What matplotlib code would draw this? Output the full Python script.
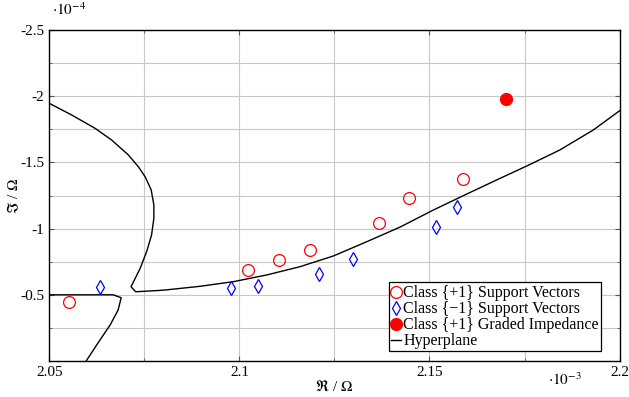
import matplotlib
matplotlib.use("Agg")
import matplotlib.pyplot as plt
from matplotlib.ticker import MultipleLocator, FixedLocator

plt.rcParams['font.family'] = ['Liberation Serif', 'DejaVu Serif']
plt.rcParams['mathtext.fontset'] = 'stix'

# Values: x in units of 1e-3 Ohm, y in units of 1e-4 Ohm
pos_sv_x = [2.0553, 2.1022, 2.1103, 2.1186, 2.1366, 2.1445, 2.1587]
pos_sv_y = [-0.446, -0.687, -0.763, -0.838, -1.045, -1.233, -1.377]

neg_sv_x = [2.0633, 2.0977, 2.1050, 2.1210, 2.1300, 2.1516, 2.1573]
neg_sv_y = [-0.557, -0.549, -0.566, -0.659, -0.773, -1.010, -1.161]

graded_x = [2.1701]
graded_y = [-1.979]

hyp_a_x = [2.0500, 2.0559, 2.0620, 2.0664, 2.0708, 2.0734, 2.0752, 2.0768, 2.0775,
           2.0775, 2.0769, 2.0756, 2.0739, 2.0715, 2.0727, 2.0778, 2.0804, 2.0896,
           2.0984, 2.1072, 2.1159, 2.1247, 2.1335, 2.1423, 2.1510, 2.1598, 2.1686,
           2.1756, 2.1843, 2.1931, 2.2000]
hyp_a_y = [-1.946, -1.858, -1.758, -1.669, -1.556, -1.468, -1.392, -1.292, -1.178,
           -1.078, -0.952, -0.826, -0.700, -0.561, -0.523, -0.531, -0.536, -0.564,
           -0.599, -0.650, -0.712, -0.793, -0.901, -1.012, -1.140, -1.261, -1.380,
           -1.473, -1.594, -1.745, -1.890]

hyp_b_x = [2.0500, 2.0668, 2.0689, 2.0681, 2.0660, 2.0628, 2.0597]
hyp_b_y = [-0.500, -0.500, -0.478, -0.385, -0.272, -0.136, 0.000]

x_ticks = [2.05, 2.1, 2.15, 2.2]
x_tick_labels = ['2.05', '2.1', '2.15', '2.2']
y_ticks = [-2.5, -2.0, -1.5, -1.0, -0.5]
y_tick_labels = ['-2.5', '-2', '-1.5', '-1', '-0.5']

fig = plt.figure(figsize=(6.29, 3.97), dpi=100)
ax = fig.add_axes([0.0784, 0.0907, 0.9066, 0.8337])

ax.grid(True, which='both', color='#c8c8c8', linewidth=0.8)
ax.set_axisbelow(True)

ax.plot(hyp_a_x, hyp_a_y, color='black', linewidth=1.0, label='Hyperplane', zorder=2)
ax.plot(hyp_b_x, hyp_b_y, color='black', linewidth=1.0, zorder=2)

ax.plot(pos_sv_x, pos_sv_y, linestyle='none', marker='o', markersize=8.5,
        markerfacecolor='none', markeredgecolor='red', markeredgewidth=0.9,
        label='Class {+1} Support Vectors', zorder=3)
ax.plot(neg_sv_x, neg_sv_y, linestyle='none', marker='d', markersize=7.5,
        markerfacecolor='none', markeredgecolor='blue', markeredgewidth=0.9,
        label='Class {\u22121} Support Vectors', zorder=3)
ax.plot(graded_x, graded_y, linestyle='none', marker='o', markersize=8.5,
        markerfacecolor='red', markeredgecolor='red',
        label='Class {+1} Graded Impedance', zorder=3)

ax.set_xlim(2.05, 2.2)
ax.set_ylim(0, -2.5)

ax.xaxis.set_major_locator(FixedLocator(x_ticks))
ax.set_xticklabels(x_tick_labels)
ax.xaxis.set_minor_locator(MultipleLocator(0.025))
ax.yaxis.set_major_locator(FixedLocator(y_ticks))
ax.set_yticklabels(y_tick_labels)
ax.yaxis.set_minor_locator(MultipleLocator(0.25))

ax.tick_params(which='both', direction='in', top=True, right=True, labelsize=11,
               color='#555555')
ax.tick_params(which='major', length=3.5)
ax.tick_params(which='minor', length=2.5)
for s in ax.spines.values():
    s.set_linewidth(1.0)

ax.set_xlabel(r'$\Re$ / $\Omega$', fontsize=11, labelpad=0)
ax.set_ylabel(r'$\Im$ / $\Omega$', fontsize=11)
ax.yaxis.set_label_coords(-0.05, 0.5)

fig.text(0.083, 0.955, r'$\cdot 10^{-4}$', fontsize=11, ha='left', va='bottom')
fig.text(0.872, 0.022, r'$\cdot 10^{-3}$', fontsize=11, ha='left', va='bottom')

handles, labels = ax.get_legend_handles_labels()
order = [1, 2, 3, 0]
leg = ax.legend([handles[i] for i in order], [labels[i] for i in order],
                loc='lower right', bbox_to_anchor=(0.968, 0.03), fontsize=11.5,
                frameon=True, fancybox=False, edgecolor='black', framealpha=1,
                handlelength=0.6, handleheight=0.5, handletextpad=0.15,
                borderpad=0.15, labelspacing=0.0, borderaxespad=0.0)
leg.get_frame().set_linewidth(0.9)

fig.savefig('out.png', dpi=100)
